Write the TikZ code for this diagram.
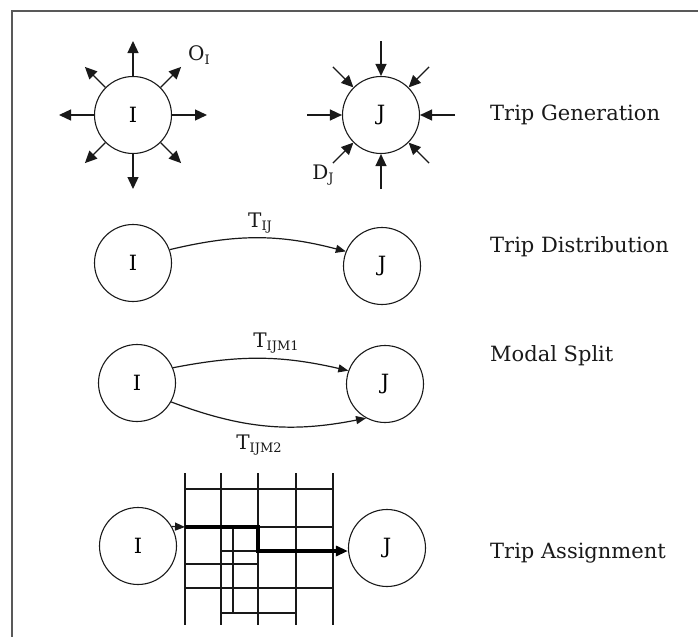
\documentclass[tikz,border=0pt]{standalone}
\usepackage{fontspec}
\setmainfont{DejaVu Serif}
\usetikzlibrary{arrows.meta}
\newcommand\lsub[1]{\raisebox{-0.35ex}{\fontsize{13}{15}\selectfont #1}}
\begin{document}
\begin{tikzpicture}[x=1pt,y=1pt,
  stn/.style={draw=black!90, circle, minimum size=77pt, inner sep=0pt, line width=1.1pt, font=\fontsize{21}{24}\selectfont},
  gen/.style={draw=black!90, line width=1.3pt, -{Triangle[length=12pt,width=11pt]}},
  flow/.style={draw=black!90, line width=1.2pt, -{Triangle[length=10pt,width=8pt]}},
  gridline/.style={draw=black!90, line width=1.2pt},
  route/.style={draw=black, line width=3.2pt, -{Triangle[length=12pt,width=10pt]}},
  stage/.style={anchor=west, font=\fontsize{21}{24}\selectfont, inner sep=0pt, text=black!90},
  lbl/.style={font=\fontsize{20}{23}\selectfont, inner sep=0pt, text=black!90}
]
\useasboundingbox (0,0) rectangle (698,-637);
\draw[line width=1.4pt, draw=black!65] (698,-11) -- (12,-11) -- (12,-637);

% Row 1: trip generation
\node[stn] (I1) at (133,-115) {I};
\node[stn] (J1) at (381,-115) {J};
\foreach \a/\d in {0/74,45/68,90/74,135/68,180/74,225/68,270/74,315/68} {
  \coordinate (oI\a) at ([shift={(\a:\d)}]I1.center);
  \draw[gen] (I1.\a) -- (oI\a);
  \coordinate (dJ\a) at ([shift={(\a:\d)}]J1.center);
  \draw[gen] (dJ\a) -- (J1.\a);
}
\node[lbl] (OI) at (199,-55) {O\lsub{I}};
\node[lbl] (DJ) at (323,-175) {D\lsub{J}};

% Row 2: trip distribution
\node[stn] (I2) at (133,-263) {I};
\node[stn] (J2) at (382,-266) {J};
\draw[flow] (I2.20) to[bend left=14] (J2.158);
\node[lbl] (T2) at (260,-223) {T\lsub{IJ}};

% Row 3: modal split
\node[stn] (I3) at (137,-383) {I};
\node[stn] (J3) at (385,-384) {J};
\draw[flow] (I3.23) to[bend left=12] (J3.160);
\draw[flow] (I3.-29) to[bend right=16] (J3.241);
\node[lbl] (T31) at (276,-343) {T\lsub{IJM1}};
\node[lbl] (T32) at (259,-445) {T\lsub{IJM2}};

% Row 4: trip assignment
\node[stn] (I4) at (138,-546) {I};
\node[stn] (J4) at (387,-548) {J};
\foreach \x in {185,221,258,296,333} \draw[gridline] (\x,-473) -- (\x,-625);
\draw[gridline] (185,-489) -- (333,-489);
\draw[gridline] (185,-527) -- (333,-527);
\draw[gridline] (221,-551) -- (333,-551);
\draw[gridline] (185,-564) -- (258,-564);
\draw[gridline] (185,-588) -- (333,-588);
\draw[gridline] (221,-613) -- (296,-613);
\draw[gridline] (233,-527) -- (233,-613);
\coordinate (r0) at (185,-527);
\coordinate (r1) at (258,-527);
\coordinate (r2) at (258,-551);
\draw[flow] (I4.30) -- (r0);
\draw[route] (r0) -- (r1) -- (r2) -- (J4.west |- r2);

% Stage names
\node[stage] (s1) at (490,-115) {Trip Generation};
\node[stage] (s2) at (490,-247) {Trip Distribution};
\node[stage] (s3) at (490,-356) {Modal Split};
\node[stage] (s4) at (490,-553) {Trip Assignment};
\end{tikzpicture}
\end{document}
